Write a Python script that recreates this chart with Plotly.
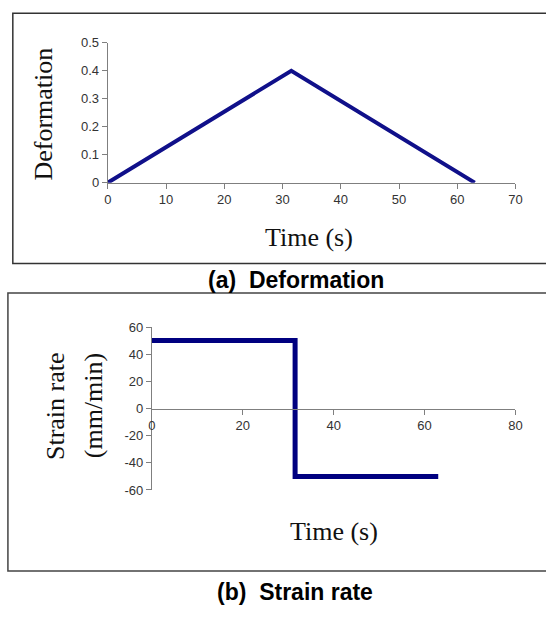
import plotly.graph_objects as go

W, H = 546, 618

# Data
time_a = [0, 31.5, 63]
deformation = [0, 0.4, 0]
time_b = [0, 31.5, 31.5, 63]
strain_rate = [50, 50, -50, -50]

xticks_a = [0, 10, 20, 30, 40, 50, 60, 70]
yticks_a = [0, 0.1, 0.2, 0.3, 0.4, 0.5]
ylabels_a = ["0", "0.1", "0.2", "0.3", "0.4", "0.5"]
xticks_b = [0, 20, 40, 60, 80]
yticks_b = [-60, -40, -20, 0, 20, 40, 60]
ylabels_b = ["-60", "-40", "-20", "0", "20", "40", "60"]

def px(x):
    return x / W

def py(y):
    return 1 - y / H

navy = "#10108a"
axis_col = "#7f7f7f"
tick_font = dict(family="Arial, Liberation Sans", size=13, color="#333333")
title_font = dict(family="Liberation Serif, Times New Roman", size=26, color="#111111")

fig = go.Figure()
fig.add_trace(go.Scatter(x=time_a, y=deformation, mode="lines",
                         line=dict(color=navy, width=4), xaxis="x", yaxis="y",
                         showlegend=False, hoverinfo="skip"))
fig.add_trace(go.Scatter(x=time_b, y=strain_rate, mode="lines",
                         line=dict(color="#000080", width=5), xaxis="x2", yaxis="y2",
                         showlegend=False, hoverinfo="skip"))

common = dict(showgrid=False, zeroline=False, showline=True, linecolor=axis_col,
              linewidth=1.3, ticks="outside", ticklen=5, tickcolor=axis_col,
              tickwidth=1.3, tickfont=tick_font)

fig.update_layout(
    width=W, height=H, margin=dict(l=0, r=0, t=0, b=0),
    paper_bgcolor="white", plot_bgcolor="rgba(0,0,0,0)",
    xaxis=dict(domain=[px(106), px(522)], range=[0, 70], tickvals=xticks_a,
               anchor="y", **common),
    yaxis=dict(domain=[py(180), py(36.7)], range=[0, 0.5], tickvals=yticks_a,
               ticktext=ylabels_a, anchor="x", **common),
    xaxis2=dict(domain=[px(151), px(522)], range=[0, 80], tickvals=xticks_b,
                anchor="free", position=py(411.5), **common),
    yaxis2=dict(domain=[py(495), py(328)], range=[-60, 60], tickvals=yticks_b,
                ticktext=ylabels_b, anchor="x2", **common),
)

# Panel borders
fig.add_shape(type="rect", xref="paper", yref="paper",
              x0=px(9), x1=px(560), y0=py(263), y1=py(6.5),
              line=dict(color="#333333", width=1.5))
fig.add_shape(type="rect", xref="paper", yref="paper",
              x0=px(4), x1=px(560), y0=py(578), y1=py(293),
              line=dict(color="#444444", width=1.5))

ann = []
ann.append(dict(text="Deformation", x=px(40), y=py(110), textangle=-90, font=title_font))
ann.append(dict(text="Time (s)", x=px(311), y=py(236), font=title_font))
ann.append(dict(text="Strain rate", x=px(52), y=py(409), textangle=-90, font=title_font))
ann.append(dict(text="(mm/min)", x=px(91), y=py(409), textangle=-90, font=title_font))
ann.append(dict(text="Time (s)", x=px(337), y=py(538), font=title_font))
cap_font = dict(family="Arial, Liberation Sans", size=23, color="black")
ann.append(dict(text="<b>(a)  Deformation</b>", x=px(298), y=py(280), font=cap_font))
ann.append(dict(text="<b>(b)  Strain rate</b>", x=px(297), y=py(600), font=cap_font))
for a in ann:
    a.update(xref="paper", yref="paper", showarrow=False, xanchor="center", yanchor="middle")
fig.update_layout(annotations=ann)

fig.write_html("out.html", config={"displayModeBar": False},
               post_script="document.body.style.margin='0';document.body.style.overflow='hidden';")
